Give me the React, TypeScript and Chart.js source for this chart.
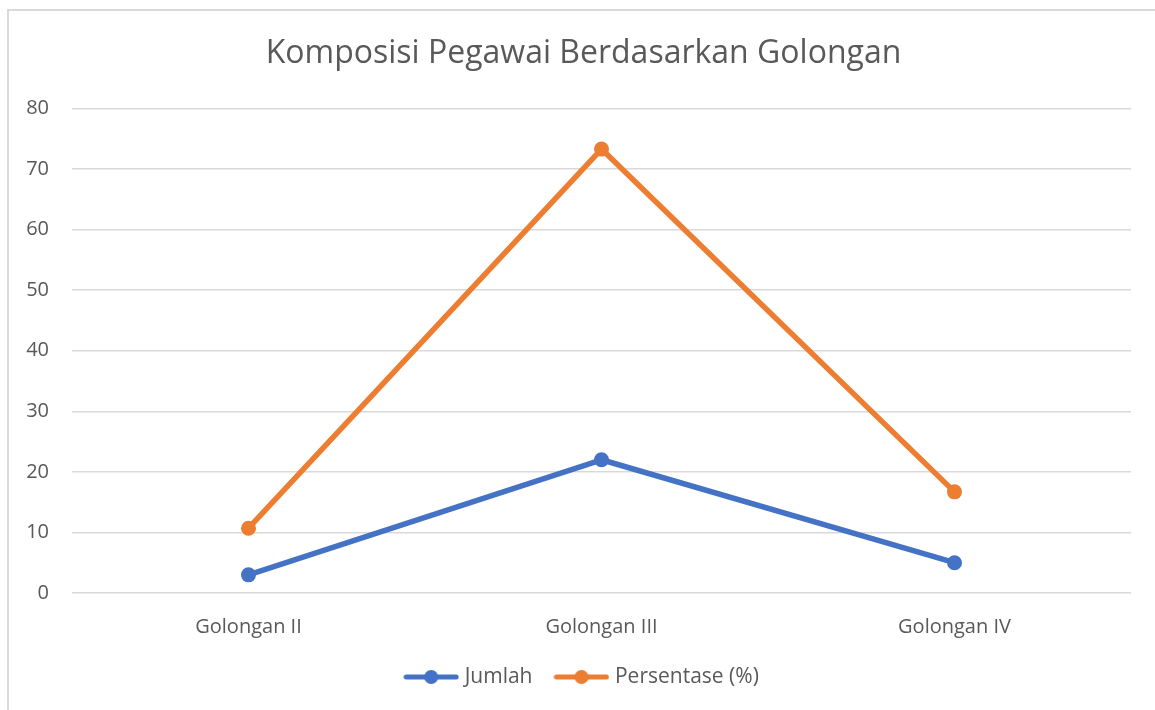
import React, { useEffect, useRef } from "react";
import { Chart, registerables } from "chart.js";

Chart.register(...registerables);

const categories = ["Golongan II", "Golongan III", "Golongan IV"];
const jumlah = [3, 22, 5];
const persentase = [10.7, 73.3, 16.7];
const seriesNames = ["Jumlah", "Persentase (%)"];
const seriesColors = ["#4472C4", "#ED7D31"];
const yTicks = { min: 0, max: 80, step: 10 };
const titleText = "Komposisi Pegawai Berdasarkan Golongan";

const FONT = "'Open Sans', sans-serif";
const TEXT = "#595959";

function legendImage(color: string): HTMLCanvasElement {
  const c = document.createElement("canvas");
  c.width = 56;
  c.height = 16;
  const ctx = c.getContext("2d")!;
  ctx.strokeStyle = color;
  ctx.lineWidth = 5;
  ctx.lineCap = "round";
  ctx.beginPath();
  ctx.moveTo(3, 8);
  ctx.lineTo(53, 8);
  ctx.stroke();
  ctx.fillStyle = color;
  ctx.beginPath();
  ctx.arc(28, 8, 7, 0, Math.PI * 2);
  ctx.fill();
  return c;
}

export default function App() {
  const ref = useRef<HTMLCanvasElement | null>(null);

  useEffect(() => {
    if (!ref.current) return;
    const images = seriesColors.map(legendImage);
    const chart = new Chart(ref.current, {
      type: "line",
      data: {
        labels: categories,
        datasets: [jumlah, persentase].map((d, i) => ({
          label: seriesNames[i],
          data: d,
          yAxisID: "y",
          borderColor: seriesColors[i],
          backgroundColor: seriesColors[i],
          pointBackgroundColor: seriesColors[i],
          pointBorderWidth: 0,
          pointRadius: 7.5,
          pointStyle: "circle",
          borderWidth: 5.5,
          borderJoinStyle: "round",
          borderCapStyle: "round",
          tension: 0,
        })),
      },
      options: {
        responsive: false,
        animation: false,
        devicePixelRatio: 1,
        layout: { padding: { left: 0, right: 0, top: 0, bottom: 12.5 } },
        plugins: {
          title: {
            display: true,
            text: titleText,
            color: TEXT,
            font: { family: FONT, size: 32, weight: "normal" },
            padding: { top: 25.8, bottom: 35.3 },
          },
          legend: {
            display: true,
            position: "bottom",
            labels: {
              color: TEXT,
              font: { family: FONT, size: 21 },
              usePointStyle: true,
              pointStyleWidth: 46,
              boxWidth: 46,
              padding: 26,
              generateLabels: (ch: any) => {
                const base = Chart.defaults.plugins.legend.labels.generateLabels(ch);
                return base.map((l: any, i: number) => ({ ...l, pointStyle: images[i] }));
              },
            },
          },
          tooltip: { enabled: false },
        },
        scales: {
          x: {
            offset: true,
            grid: { display: false, drawTicks: false },
            border: { display: false },
            ticks: { color: TEXT, font: { family: FONT, size: 20 }, padding: 22 },
            afterFit: (s: any) => {
              s.height = 47.5;
            },
          },
          y: {
            position: "left",
            min: yTicks.min,
            max: yTicks.max,
            ticks: {
              stepSize: yTicks.step,
              color: TEXT,
              font: { family: FONT, size: 20 },
              padding: 23,
            },
            grid: { color: "#d9d9d9", lineWidth: 1.5, drawTicks: false },
            border: { display: false },
            afterFit: (s: any) => {
              s.width = 64;
            },
          },
          yRight: {
            type: "linear",
            position: "right",
            display: true,
            grid: { display: false, drawTicks: false },
            border: { display: false },
            ticks: { display: false },
            afterFit: (s: any) => {
              s.width = 28;
            },
          },
        },
      } as any,
    });
    return () => chart.destroy();
  }, []);

  return (
    <div
      style={{
        position: "fixed",
        left: 0,
        top: 0,
        width: 1155,
        height: 710,
        overflow: "hidden",
        background: "#fff",
      }}
    >
      <div
        style={{
          position: "absolute",
          left: 7,
          top: 9,
          width: 1170,
          height: 730,
          border: "2px solid #d9d9d9",
          boxSizing: "border-box",
        }}
      />
      <canvas
        ref={ref}
        width={1151}
        height={701}
        style={{ position: "absolute", left: 8, top: 9, width: 1151, height: 701 }}
      />
    </div>
  );
}
